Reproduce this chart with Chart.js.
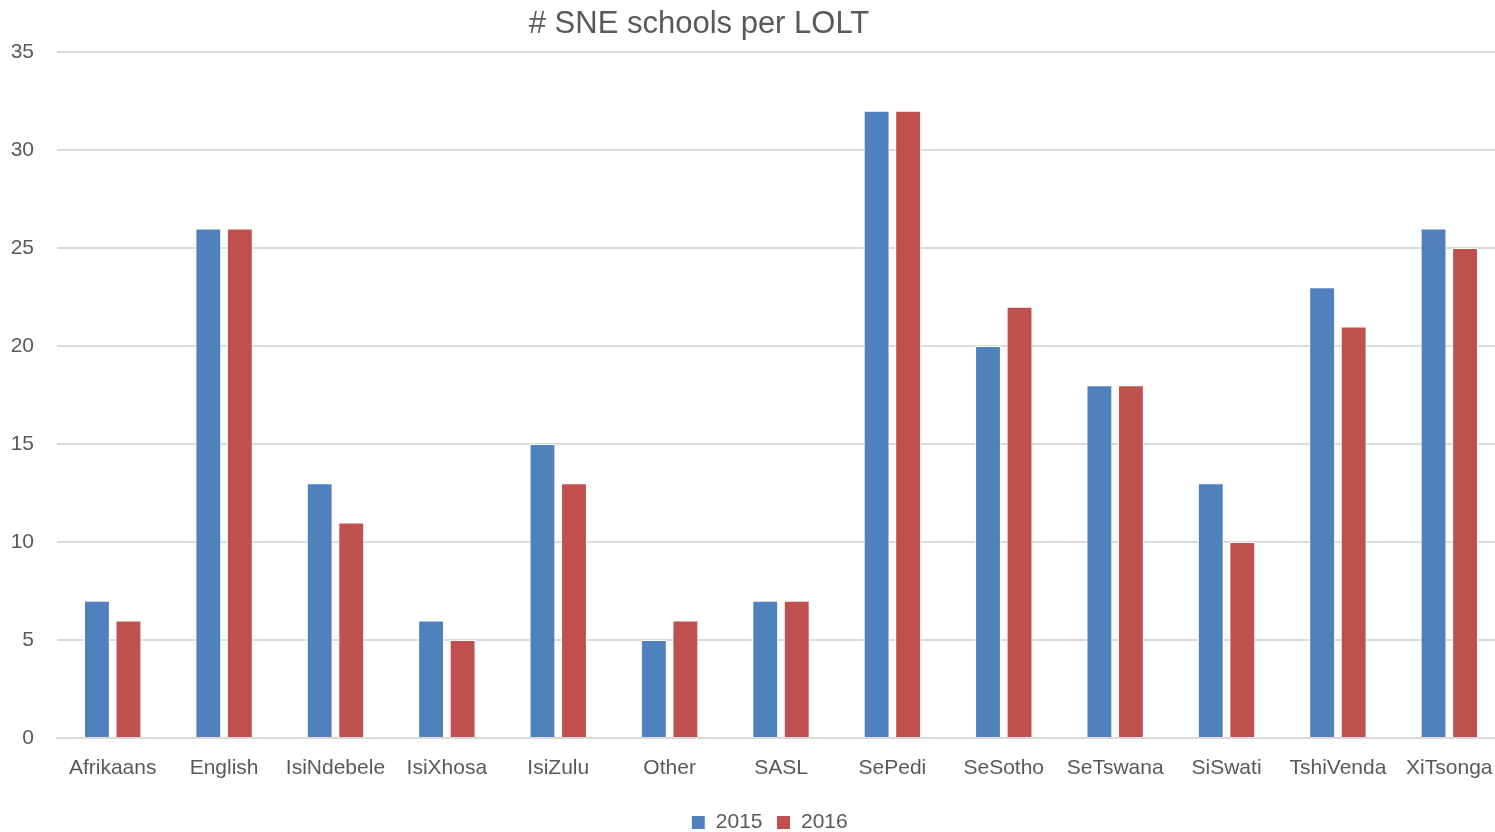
<!DOCTYPE html>
<html>
<head>
<meta charset="utf-8">
<script src="https://cdn.jsdelivr.net/npm/chart.js@4.4.1/dist/chart.umd.min.js"></script>
<style>
  html, body { margin: 0; padding: 0; background: #fff; }
  #wrap { width: 1495px; height: 832px; }
</style>
</head>
<body>
<div id="wrap"><canvas id="chart" width="1495" height="832"></canvas></div>
<script>
// Dados
const languages = ['Afrikaans', 'English', 'IsiNdebele', 'IsiXhosa', 'IsiZulu', 'Other', 'SASL',
    'SePedi', 'SeSotho', 'SeTswana', 'SiSwati', 'TshiVenda', 'XiTsonga'];
const schools2015 = [7, 26, 13, 6, 15, 5, 7, 32, 20, 18, 13, 23, 26];
const schools2016 = [6, 26, 11, 5, 13, 6, 7, 32, 22, 18, 10, 21, 25];
const yTicks = [0, 5, 10, 15, 20, 25, 30, 35];
const chartTitle = '# SNE schools per LOLT';

const FONT = "'Liberation Sans', Arial, sans-serif";
const GREY = '#595959';

// ajustes de layout + titulo desenhado a mao (nao fica centrado no canvas)
const layoutPlugin = {
    id: 'customLayout',
    afterLayout(chart) {
        // no original a area do grafico passa um pouco da borda direita
        const xScale = chart.scales.x;
        xScale.right += 10;
        xScale.width += 10;
        xScale.configure();
        chart.chartArea.right += 10;
        chart.chartArea.width += 10;
        // a legenda do original esta um pouco a direita
        chart.legend.left += 22;
        chart.legend.right += 22;
    },
    afterDraw(chart) {
        const ctx = chart.ctx;
        ctx.save();
        ctx.font = '31px ' + FONT;
        ctx.fillStyle = GREY;
        ctx.textAlign = 'center';
        ctx.textBaseline = 'middle';
        ctx.fillText(chartTitle, 699, 24);
        ctx.restore();
    }
};

new Chart(document.getElementById('chart'), {
    type: 'bar',
    data: {
        labels: languages,
        datasets: [
            {
                label: '2015',
                data: schools2015,
                backgroundColor: '#4F81BD',
                borderColor: '#ffffff',
                borderWidth: 1,
                categoryPercentage: 0.566,
                barPercentage: 0.82
            },
            {
                label: '2016',
                data: schools2016,
                backgroundColor: '#C0504D',
                borderColor: '#ffffff',
                borderWidth: 1,
                categoryPercentage: 0.566,
                barPercentage: 0.82
            }
        ]
    },
    options: {
        responsive: false,
        animation: false,
        layout: { padding: { top: 52, right: 0, left: 0, bottom: -11 } },
        plugins: {
            title: { display: false },
            tooltip: { enabled: false },
            legend: {
                position: 'bottom',
                labels: {
                    font: { family: FONT, size: 21 },
                    color: GREY,
                    boxWidth: 14,
                    boxHeight: 14,
                    padding: 14
                }
            }
        },
        scales: {
            x: {
                grid: { display: false, drawTicks: false },
                border: { display: true, color: '#d9d9d9', width: 2 },
                ticks: {
                    font: { family: FONT, size: 21 },
                    color: GREY,
                    padding: 18,
                    maxRotation: 0,
                    autoSkip: false
                },
                afterFit(scale) {
                    scale.height = 60;
                    scale.paddingLeft = 0;
                    scale.paddingRight = 0;
                }
            },
            y: {
                min: 0,
                max: 35,
                afterBuildTicks(scale) { scale.ticks = yTicks.map(v => ({ value: v })); },
                grid: { color: '#d9d9d9', lineWidth: 2, drawTicks: false },
                border: { display: false },
                ticks: {
                    font: { family: FONT, size: 21 },
                    color: GREY,
                    padding: 23
                },
                afterFit(scale) { scale.width = 57; }
            }
        }
    },
    plugins: [layoutPlugin]
});
</script>
</body>
</html>
